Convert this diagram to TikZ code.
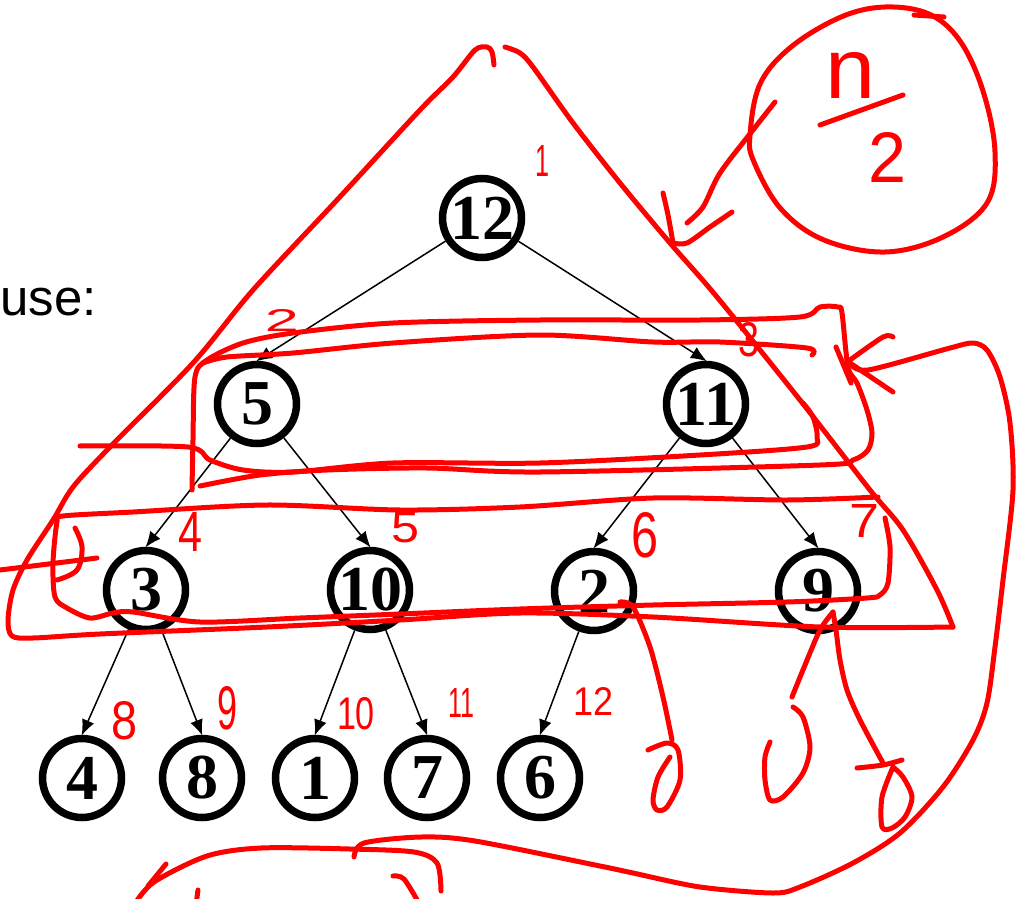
\documentclass[tikz,border=0pt]{standalone}
\usepackage{fontspec}
\setmainfont{Liberation Serif}
\setsansfont{Liberation Sans}
\usetikzlibrary{arrows.meta}
\newcommand{\hwt}[3]{\resizebox{#1pt}{#2pt}{\sffamily #3}}
\begin{document}
\begin{tikzpicture}[x=1pt,y=-1pt,
  heapnode/.style={circle, draw=black, line width=7.5pt, minimum size=79pt, inner sep=0pt,
    font=\fontsize{64}{64}\selectfont\bfseries},
  treeedge/.style={-{Latex[length=16pt,width=13pt]}, line width=1.5pt, black, shorten >=-1pt},
  hand/.style={red, line width=5pt, line cap=round, line join=round},
  handlabel/.style={text=red, inner sep=0pt}]
\useasboundingbox (0,0) rectangle (1020,899);

% text
\node[anchor=base west, inner sep=0pt, font=\sffamily\fontsize{51}{51}\selectfont] (use) at (0,315) {use:};

% tree
\node[heapnode] (n12) at (482,218) {12};
\node[heapnode] (n5) at (257,404) {5};
\node[heapnode] (n11) at (706,404) {11};
\node[heapnode] (n3) at (146,590) {3};
\node[heapnode] (n10) at (370,590) {10};
\node[heapnode] (n2) at (594,591) {2};
\node[heapnode] (n9) at (818,591) {9};
\node[heapnode] (n4) at (82,778) {4};
\node[heapnode] (n8) at (202,778) {8};
\node[heapnode] (n1) at (315,778) {1};
\node[heapnode] (n7) at (427,778) {7};
\node[heapnode] (n6) at (540,778) {6};

\draw[treeedge] (n12) -- (n5.north);
\draw[treeedge] (n12) -- (n11.north);
\draw[treeedge] (n5) -- (n3.north);
\draw[treeedge] (n5) -- (n10.north);
\draw[treeedge] (n11) -- (n2.north);
\draw[treeedge] (n11) -- (n9.north);
\draw[treeedge] (n3) -- (n4.north);
\draw[treeedge] (n3) -- (n8.north);
\draw[treeedge] (n10) -- (n1.north);
\draw[treeedge] (n10) -- (n7.north);
\draw[treeedge] (n2) -- (n6.north);

% big triangle
\draw[hand] plot[smooth, tension=0.5] coordinates {(494,65) (492,52) (487,47) (475,50) (453,77) (420,110) (337,200) (253,290) (193,363) (110,447) (73,487) (53,520) (27,560) (13,590) (8,620) (12,636) (33,638) (100,634) (267,627) (400,620) (520,613) (653,617) (820,627) (953,627)};
\draw[hand] plot[smooth, tension=0.5] coordinates {(953,627) (937,590) (903,530) (870,490) (800,400) (717,297) (670,243) (620,183) (573,123) (533,67) (520,53) (505,47)};

% level 2 loops
\draw[hand] plot[smooth, tension=0.5] coordinates {(80,446) (188,447) (210,460) (243,470) (293,472) (393,463) (540,463) (700,455) (807,447) (817,437) (813,417) (803,403)};
\draw[hand] plot[smooth, tension=0.5] coordinates {(192,490) (193,440) (195,377) (207,360) (243,343) (293,333) (393,323) (540,320) (700,320) (800,317) (820,307) (838,307) (842,313) (848,367) (857,383) (867,410) (872,433) (868,450) (853,460) (820,465) (540,472) (427,468) (327,470) (260,475) (200,486)};
\draw[hand] plot[smooth, tension=0.5] coordinates {(203,363) (227,357) (293,353) (393,343) (540,335) (653,342) (720,342) (807,348) (812,355)};
\draw[hand] (836,347) -- (851,383);

% level 3 loop
\draw[hand] plot[smooth, tension=0.5] coordinates {(878,497) (787,500) (653,498) (520,507) (400,510) (267,505) (133,512) (63,516) (57,522) (53,563) (55,597) (67,608) (90,618) (113,613) (133,612) (200,622) (300,618) (400,614) (520,609) (653,605) (787,602) (867,598) (880,595) (888,583) (890,547) (885,518)};
\draw[hand] (0,570) -- (97,558);
\draw[hand] plot[smooth, tension=0.6] coordinates {(75,528) (82,547) (77,570) (57,580)};

% n/2 circle and arrow
\draw[hand] plot[smooth cycle, tension=0.6] coordinates {(750,135) (760,84) (791,47) (841,17) (885,7) (929,14) (960,41) (983,91) (995,152) (987,203) (943,237) (885,252) (824,240) (781,209) (754,162)};
\draw[hand] (914,15) -- (944,17);
\draw[hand] plot[smooth, tension=0.5] coordinates {(775,102) (753,130) (720,173) (703,207) (687,223)};
\draw[hand] plot[smooth, tension=0.5] coordinates {(663,193) (668,215) (673,243)};
\draw[hand] plot[smooth, tension=0.5] coordinates {(673,243) (687,243) (710,227) (732,212)};
\draw[hand] (820,125) -- (903,95);
\node[handlabel] (lbn) at (851,75) {\hwt{50}{46}{n}};
\node[handlabel] (lb2d) at (887,157) {\hwt{38}{50}{2}};

% right big loop with arrow
\draw[hand] plot[smooth, tension=0.5] coordinates {(850,363) (868,370) (950,348) (973,343) (987,350) (1000,377) (1010,423) (1013,490) (1003,580) (995,647) (987,703) (973,740) (943,787) (900,833) (853,863) (800,887) (773,893) (700,887) (633,873) (600,866) (475,841) (421,837) (364,843) (354,857)};
\draw[hand] plot[smooth, tension=0.5] coordinates {(893,337) (883,337) (850,360)};
\draw[hand] (850,363) -- (893,392);

% bottom arrow
\draw[hand] plot[smooth, tension=0.5] coordinates {(441,891) (437,863) (414,852) (350,849) (261,848) (207,856) (154,882) (134,905)};
\draw[hand] (166,864) -- (148,886);
\draw[hand] (198,890) -- (196,905);
\draw[hand] plot[smooth, tension=0.5] coordinates {(393,876) (404,879) (420,905)};

% marks under 2 and 9
\draw[hand] plot[smooth, tension=0.5] coordinates {(620,602) (633,607) (650,647) (663,697) (672,740)};
\draw[hand] plot[smooth, tension=0.5] coordinates {(648,750) (667,743) (678,750) (680,780) (667,807) (657,810) (653,800) (658,777) (670,757)};
\draw[hand] plot[smooth, tension=0.5] coordinates {(833,612) (820,630) (805,665) (792,697)};
\draw[hand] plot[smooth, tension=0.5] coordinates {(833,612) (836,630) (840,660) (847,690) (860,720) (883,763)};
\draw[hand] plot[smooth, tension=0.5] coordinates {(793,707) (803,717) (810,747) (803,773) (783,797) (770,800) (765,780) (765,757) (770,742)};
\draw[hand] plot[smooth, tension=0.5] coordinates {(857,768) (883,765) (902,760)};
\draw[hand] plot[smooth, tension=0.5] coordinates {(893,767) (882,797) (882,827) (892,828) (905,817) (912,797) (903,777) (893,767)};

% handwritten index labels
\node[handlabel] (l1) at (542,161) {\hwt{14}{31}{1}};
\node[handlabel] (l2) at (282,320) {\hwt{34}{22}{2}};
\node[handlabel] (l3) at (749,340) {\hwt{21}{34}{3}};
\node[handlabel] (l4) at (190,532) {\hwt{24}{39}{4}};
\node[handlabel] (l5) at (405,528) {\hwt{28}{30}{5}};
\node[handlabel] (l6) at (645,535) {\hwt{27}{45}{6}};
\node[handlabel] (l7) at (864,521) {\hwt{30}{33}{7}};
\node[handlabel] (l8) at (125,721) {\hwt{26}{38}{8}};
\node[handlabel] (l9) at (227,708) {\hwt{20}{43}{9}};
\node[handlabel] (l10) at (356,714) {\hwt{38}{32}{10}};
\node[handlabel] (l11) at (461,703) {\hwt{26}{29}{11}};
\node[handlabel] (l12) at (593,701) {\hwt{40}{28}{12}};
\end{tikzpicture}
\end{document}
